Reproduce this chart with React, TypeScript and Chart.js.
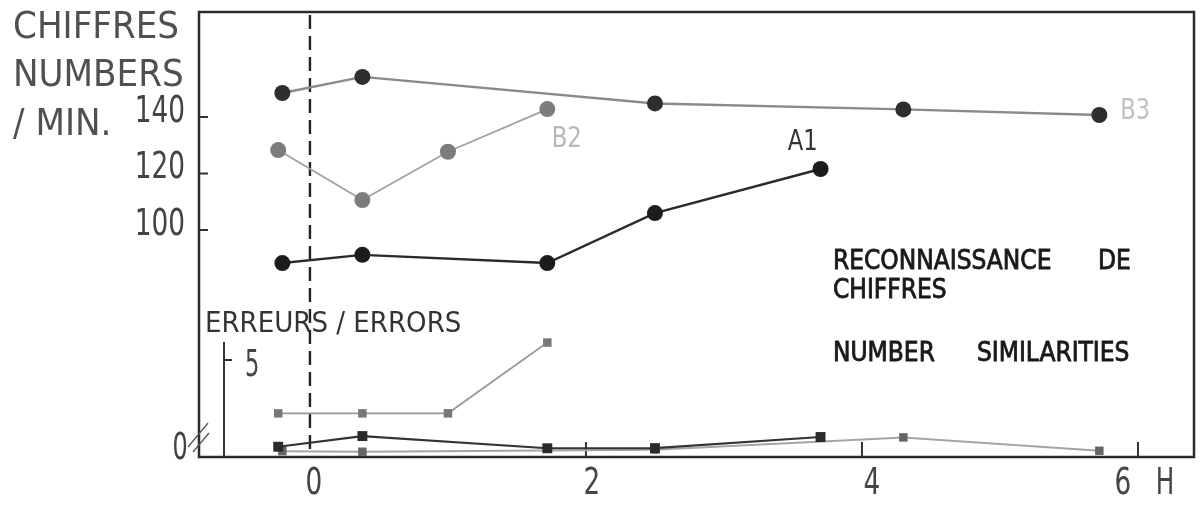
import React, { useEffect, useRef } from "react";
import { Chart, registerables } from "chart.js";

Chart.register(...registerables);

// ---- data (hours after dose, numbers per minute / errors) ----
const hoursA1 = [-0.2, 0.38, 1.72, 2.5, 3.7];
const numbersA1 = [88.3, 91.2, 88.3, 106, 121.6];
const hoursB2 = [-0.23, 0.38, 1.0, 1.72];
const numbersB2 = [128.3, 110.6, 127.7, 142.8];
const hoursB3 = [-0.2, 0.38, 2.5, 4.3, 5.72];
const numbersB3 = [148.5, 154.2, 144.8, 142.7, 140.7];

const errHoursA1 = [-0.23, 0.38, 1.72, 2.5, 3.7];
const errorsA1 = [0.53, 1.08, 0.45, 0.46, 1.03];
const errHoursB2 = [-0.23, 0.38, 1.0, 1.72];
const errorsB2 = [2.25, 2.25, 2.25, 5.9];
const errHoursB3 = [-0.2, 0.38, 2.5, 4.3, 5.72];
const errorsB3 = [0.3, 0.27, 0.38, 1.01, 0.32];

const xTicks = [0, 2, 4, 6];
const xTickLabels = ["0", "2", "4", "6"];
const yTicks = [100, 120, 140];
const yTickLabels = ["100", "120", "140"];
const errTicks = [5];
const errTickLabels = ["5"];

const titleLines = ["CHIFFRES", "NUMBERS", "/ MIN."];
const errTitle = "ERREURS / ERRORS";
const seriesNames = ["A1", "B2", "B3"];

// hand-lettering offsets of the x labels (px)
const xLabelNudge = [4, 6, 10, -15];

const FONT = "'DejaVu Sans Condensed', 'DejaVu Sans', sans-serif";

const mk = (h: number[], v: number[]) => h.map((x, i) => ({ x, y: v[i] }));

function narrowText(ctx: CanvasRenderingContext2D, t: string, x: number, y: number, align: CanvasTextAlign, sx: number) {
  ctx.save();
  ctx.translate(x, y);
  ctx.scale(sx, 1);
  ctx.textAlign = align;
  ctx.fillText(t, 0, 0);
  ctx.restore();
}

const decor = {
  id: "decor",
  beforeDatasetsDraw(chart: any) {
    const { ctx, chartArea: a, scales } = chart;
    const x = scales.x, y = scales.y, ye = scales.yErr;
    ctx.save();
    ctx.lineCap = "butt";
    // frame
    ctx.strokeStyle = "#2b2b2b";
    ctx.lineWidth = 2.5;
    ctx.strokeRect(a.left, a.top, a.right - a.left, a.bottom - a.top);
    // dashed zero line
    const x0 = x.getPixelForValue(0);
    ctx.setLineDash([14, 7]);
    ctx.lineWidth = 2.4;
    ctx.strokeStyle = "#222";
    ctx.beginPath();
    ctx.moveTo(x0, a.top + 3);
    ctx.lineTo(x0, a.bottom);
    ctx.stroke();
    ctx.setLineDash([]);
    // inner y ticks
    ctx.strokeStyle = "#333";
    ctx.lineWidth = 2;
    yTicks.forEach((v) => {
      const py = y.getPixelForValue(v);
      ctx.beginPath();
      ctx.moveTo(a.left, py);
      ctx.lineTo(a.left + 9, py);
      ctx.stroke();
    });
    // inner x ticks
    xTicks.forEach((v) => {
      if (v === 0) return;
      const px = x.getPixelForValue(v);
      ctx.beginPath();
      ctx.moveTo(px, a.bottom);
      ctx.lineTo(px, a.bottom - 15);
      ctx.stroke();
    });
    // error axis
    const ex = x.getPixelForValue(-0.623);
    ctx.beginPath();
    ctx.moveTo(ex, ye.getPixelForValue(0));
    ctx.lineTo(ex, ye.getPixelForValue(5.93));
    ctx.stroke();
    ctx.fillStyle = "#444";
    ctx.textBaseline = "middle";
    ctx.font = `38px ${FONT}`;
    errTicks.forEach((v, i) => {
      const py = ye.getPixelForValue(v);
      ctx.beginPath();
      ctx.moveTo(ex, py);
      ctx.lineTo(ex + 8, py);
      ctx.stroke();
      narrowText(ctx, errTickLabels[i], ex + 21, py + 6, "left", 0.66);
    });
    ctx.restore();
  },
  afterDraw(chart: any) {
    const { ctx, chartArea: a, scales } = chart;
    const x = scales.x, y = scales.y;
    ctx.save();
    ctx.textBaseline = "middle";
    // tick labels
    ctx.fillStyle = "#444";
    ctx.font = `38px ${FONT}`;
    yTicks.forEach((v, i) => {
      narrowText(ctx, yTickLabels[i], a.left - 14, y.getPixelForValue(v) - 5, "right", 0.77);
    });
    xTicks.forEach((v, i) => {
      narrowText(ctx, xTickLabels[i], x.getPixelForValue(v) + xLabelNudge[i], a.bottom + 27, "center", 0.77);
    });
    narrowText(ctx, "H", 1165, a.bottom + 27, "center", 0.72);
    // axis break
    ctx.strokeStyle = "#555";
    ctx.lineWidth = 1.3;
    ctx.beginPath();
    ctx.moveTo(a.left - 11, a.bottom - 10);
    ctx.lineTo(a.left + 9, a.bottom - 34);
    ctx.moveTo(a.left - 6, a.bottom - 5);
    ctx.lineTo(a.left + 10, a.bottom - 24);
    ctx.stroke();
    narrowText(ctx, "0", a.left - 19, a.bottom - 8, "center", 0.7);
    // title
    ctx.textAlign = "left";
    ctx.fillStyle = "#505050";
    ctx.font = `38px ${FONT}`;
    titleLines.forEach((t, i) => ctx.fillText(t, 13, 28 + i * 48.5));
    // errors title
    ctx.fillStyle = "#333";
    ctx.font = `29px ${FONT}`;
    ctx.fillText(errTitle, 205, 324);
    // description block
    ctx.fillStyle = "#1a1a1a";
    ctx.strokeStyle = "#1a1a1a";
    ctx.lineWidth = 0.8;
    ctx.font = `26px ${FONT}`;
    const words: [string, number, number][] = [
      ["RECONNAISSANCE", 833, 262],
      ["DE", 1098, 262],
      ["CHIFFRES", 833, 291],
      ["NUMBER", 833, 354],
      ["SIMILARITIES", 977, 354],
    ];
    words.forEach(([t, px, py]) => {
      ctx.fillText(t, px, py);
      ctx.strokeText(t, px, py);
    });
    // series labels
    ctx.font = `28px ${FONT}`;
    const lab: [string, number, number, string][] = [
      [seriesNames[0], 3.57, 130.8, "#333"],
      [seriesNames[1], 1.86, 131.9, "#b8b8b8"],
      [seriesNames[2], 5.98, 141.8, "#c0c0c0"],
    ];
    lab.forEach(([t, hx, vy, c]) => {
      ctx.fillStyle = c;
      narrowText(ctx, t, x.getPixelForValue(hx), y.getPixelForValue(vy), "center", 0.9);
    });
    ctx.restore();
  },
};

export default function App() {
  const ref = useRef<HTMLCanvasElement | null>(null);
  useEffect(() => {
    if (!ref.current) return;
    const circle = (color: string) => ({
      pointRadius: 8,
      pointBackgroundColor: color,
      pointBorderWidth: 0,
      pointStyle: "circle",
    });
    const square = (color: string, r: number) => ({
      pointRadius: r,
      pointBackgroundColor: color,
      pointBorderWidth: 0,
      pointStyle: "rect",
    });
    const chart = new Chart(ref.current, {
      type: "scatter",
      data: {
        datasets: [
          { label: "A1", data: mk(hoursA1, numbersA1), yAxisID: "y", showLine: true, borderColor: "#2a2a2a", borderWidth: 2.4, ...circle("#1c1c1c") },
          { label: "B3", data: mk(hoursB3, numbersB3), yAxisID: "y", showLine: true, borderColor: "#8a8a8a", borderWidth: 2.4, ...circle("#2e2e2e") },
          { label: "B2", data: mk(hoursB2, numbersB2), yAxisID: "y", showLine: true, borderColor: "#a0a0a0", borderWidth: 1.8, ...circle("#7c7c7c") },
          { label: "A1 errors", data: mk(errHoursA1, errorsA1), yAxisID: "yErr", showLine: true, borderColor: "#333", borderWidth: 2.2, ...square("#2a2a2a", 7) },
          { label: "B3 errors", data: mk(errHoursB3, errorsB3), yAxisID: "yErr", showLine: true, borderColor: "#a5a5a5", borderWidth: 2, ...square("#666", 6) },
          { label: "B2 errors", data: mk(errHoursB2, errorsB2), yAxisID: "yErr", showLine: true, borderColor: "#9a9a9a", borderWidth: 1.8, ...square("#777", 6) },
        ] as any,
      },
      options: {
        animation: false,
        responsive: true,
        maintainAspectRatio: false,
        layout: { padding: { left: 0, top: 12, right: 9, bottom: 0 } },
        plugins: { legend: { display: false }, tooltip: { enabled: false } },
        scales: {
          x: {
            type: "linear",
            min: -0.804,
            max: 6.406,
            afterBuildTicks: (s: any) => {
              s.ticks = xTicks.map((v) => ({ value: v }));
            },
            ticks: { display: false },
            grid: { drawOnChartArea: false, drawTicks: false },
            border: { display: false },
            afterFit: (s: any) => {
              s.height = 49;
              s.paddingLeft = 0;
              s.paddingRight = 0;
            },
          },
          y: {
            type: "linear",
            min: 19.65,
            max: 177.17,
            afterBuildTicks: (s: any) => {
              s.ticks = yTicks.map((v) => ({ value: v }));
            },
            ticks: { display: false },
            grid: { drawOnChartArea: false, drawTicks: false },
            border: { display: false },
            afterFit: (s: any) => {
              s.width = 199;
              s.paddingTop = 0;
              s.paddingBottom = 0;
            },
          },
          yErr: {
            type: "linear",
            display: false,
            min: 0,
            max: 22.94,
            afterFit: (s: any) => {
              s.width = 0;
              s.paddingTop = 0;
              s.paddingBottom = 0;
            },
          },
        },
      } as any,
      plugins: [decor],
    });
    return () => chart.destroy();
  }, []);
  return (
    <div style={{ position: "fixed", left: 0, top: 0, width: 1203, height: 506, background: "#fff" }}>
      <canvas ref={ref} />
    </div>
  );
}
